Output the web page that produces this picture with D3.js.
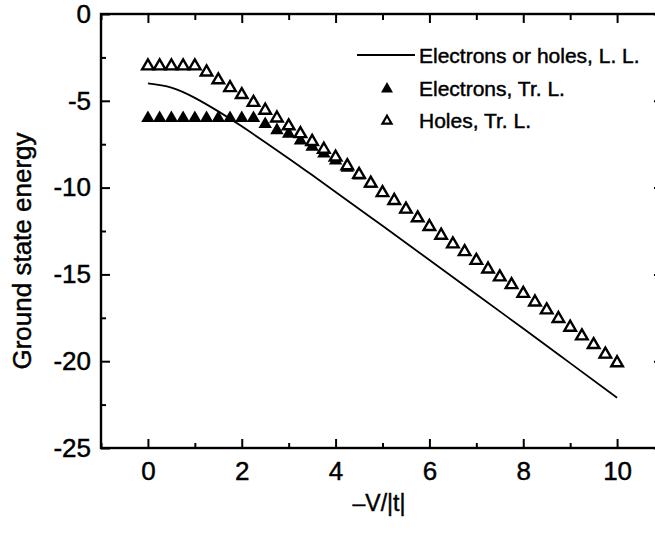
<!DOCTYPE html>
<html>
<head>
<meta charset="utf-8">
<script src="https://cdn.jsdelivr.net/npm/d3@7"></script>
<style>
  body { margin: 0; background: #fff; }
  text { font-family: "Liberation Sans", Arial, sans-serif; fill: #000; stroke: #000; stroke-width: 0.45px; }
</style>
</head>
<body>
<div id="vis-container"></div>
<script>
// Data
const holesX = d3.range(0, 10.001, 0.25);
const holesY = [-3, -3, -3, -3, -3, -3.35, -3.8, -4.25, -4.65, -5.1,
  -5.55, -6.0, -6.45, -6.9, -7.35, -7.8, -8.25, -8.75, -9.25, -9.75,
  -10.3, -10.75, -11.25, -11.75, -12.25, -12.75, -13.25, -13.7, -14.2, -14.7,
  -15.15, -15.6, -16.1, -16.6, -17.05, -17.55, -18.05, -18.55, -19.05, -19.6, -20.1];
const electronsY = [-6, -6, -6, -6, -6, -6, -6, -6, -6, -6,
  -6.35, -6.7, -6.9, -7.3, -7.65, -8.05, -8.45, -8.87, -9.31, -9.78,
  -10.3, -10.75, -11.25, -11.75, -12.25, -12.75, -13.25, -13.7, -14.2, -14.7,
  -15.15, -15.6, -16.1, -16.6, -17.05, -17.55, -18.05, -18.55, -19.05, -19.6, -20.1];
const lineX = [0, 0.5, 1, 1.5, 2, 2.5, 3, 3.5, 4, 5, 6, 7, 8, 9, 10];
const lineY = [-4.0, -4.24, -4.83, -5.61, -6.47, -7.39, -8.32, -9.28, -10.25, -12.2, -14.17, -16.14, -18.12, -20.11, -22.1];
const xTicks = [0, 2, 4, 6, 8, 10];
const yTicks = [0, -5, -10, -15, -20, -25];
const legendLabels = ["Electrons or holes, L. L.", "Electrons, Tr. L.", "Holes, Tr. L."];

const width = 655, height = 534;
const margin = { top: 14, left: 101, bottom: 448, right: 664 };

const svg = d3.select("#vis-container")
  .append("svg")
  .attr("width", width)
  .attr("height", height);

const x = d3.scaleLinear().domain([-1, 11]).range([margin.left, margin.right]);
const y = d3.scaleLinear().domain([-25, 0]).range([margin.bottom, margin.top]);

// Axes: major ticks inside, minor ticks halfway between
function styleAxis(g) {
  g.select(".domain").remove();
  g.selectAll(".tick line").attr("stroke", "#000").attr("stroke-width", 2);
  g.selectAll("text").attr("font-size", "26px");
}
const plain = d => String(d);   // keep the plain hyphen minus of the original
const xMinor = d3.range(-1, 11.01, 1).filter(v => xTicks.indexOf(v) < 0);
const yMinor = d3.range(-22.5, 0, 5);

// bottom
svg.append("g")
  .attr("transform", `translate(0,${margin.bottom})`)
  .call(d3.axisBottom(x).tickValues(xTicks).tickSize(-9).tickPadding(14).tickFormat(plain))
  .call(styleAxis);
svg.append("g")
  .attr("transform", `translate(0,${margin.bottom})`)
  .call(d3.axisBottom(x).tickValues(xMinor).tickSize(-5).tickFormat(""))
  .call(styleAxis);
// top
svg.append("g")
  .attr("transform", `translate(0,${margin.top})`)
  .call(d3.axisTop(x).tickValues(xTicks).tickSize(-9).tickFormat(""))
  .call(styleAxis);
svg.append("g")
  .attr("transform", `translate(0,${margin.top})`)
  .call(d3.axisTop(x).tickValues(xMinor).tickSize(-6).tickFormat(""))
  .call(styleAxis);
// left
svg.append("g")
  .attr("transform", `translate(${margin.left},0)`)
  .call(d3.axisLeft(y).tickValues(yTicks).tickSize(-9).tickPadding(10).tickFormat(plain))
  .call(styleAxis);
svg.append("g")
  .attr("transform", `translate(${margin.left},0)`)
  .call(d3.axisLeft(y).tickValues(yMinor).tickSize(-5).tickFormat(""))
  .call(styleAxis);
// right
svg.append("g")
  .attr("transform", `translate(${margin.right},0)`)
  .call(d3.axisRight(y).tickValues(yTicks).tickSize(-10).tickFormat(""))
  .call(styleAxis);

// frame
svg.append("rect")
  .attr("x", margin.left)
  .attr("y", margin.top)
  .attr("width", margin.right - margin.left)
  .attr("height", margin.bottom - margin.top)
  .attr("fill", "none")
  .attr("stroke", "#000")
  .attr("stroke-width", 2.4);

// Axis titles
svg.append("text")
  .attr("x", 379)
  .attr("y", 511)
  .attr("text-anchor", "middle")
  .attr("font-size", "23px")
  .text("\u2013V/|t|");

svg.append("text")
  .attr("transform", "translate(31,251) rotate(-90)")
  .attr("text-anchor", "middle")
  .attr("font-size", "26px")
  .text("Ground state energy");

// L. L. line
const line = d3.line()
  .x((d, i) => x(lineX[i]))
  .y(d => y(d))
  .curve(d3.curveNatural);
svg.append("path")
  .datum(lineY)
  .attr("d", line)
  .attr("fill", "none")
  .attr("stroke", "#000")
  .attr("stroke-width", 1.8);

// Electrons: filled triangles
const tri = d3.symbol().type(d3.symbolTriangle);
svg.selectAll(".elec")
  .data(electronsY)
  .enter()
  .append("path")
  .attr("class", "elec")
  .attr("d", tri.size(78)())
  .attr("transform", (d, i) => `translate(${x(holesX[i])},${y(d)})`)
  .attr("fill", "#000");

// Holes: open triangles
svg.selectAll(".hole")
  .data(holesY)
  .enter()
  .append("path")
  .attr("class", "hole")
  .attr("d", tri.size(58)())
  .attr("transform", (d, i) => `translate(${x(holesX[i])},${y(d)})`)
  .attr("fill", "#fff")
  .attr("stroke", "#000")
  .attr("stroke-width", 2.4);

// Legend
const legend = svg.append("g");
legend.append("line")
  .attr("x1", 357).attr("x2", 415)
  .attr("y1", 55).attr("y2", 55)
  .attr("stroke", "#000").attr("stroke-width", 1.8);
legend.append("path")
  .attr("d", tri.size(62)())
  .attr("transform", "translate(387,89)")
  .attr("fill", "#000");
legend.append("path")
  .attr("d", tri.size(36)())
  .attr("transform", "translate(387,121)")
  .attr("fill", "#fff")
  .attr("stroke", "#000")
  .attr("stroke-width", 2.2);
legend.selectAll(".lbl")
  .data(legendLabels)
  .enter()
  .append("text")
  .attr("class", "lbl")
  .attr("x", 419)
  .attr("y", (d, i) => 63 + i * 32.5)
  .attr("font-size", "21px")
  .text(d => d);
</script>
</body>
</html>
